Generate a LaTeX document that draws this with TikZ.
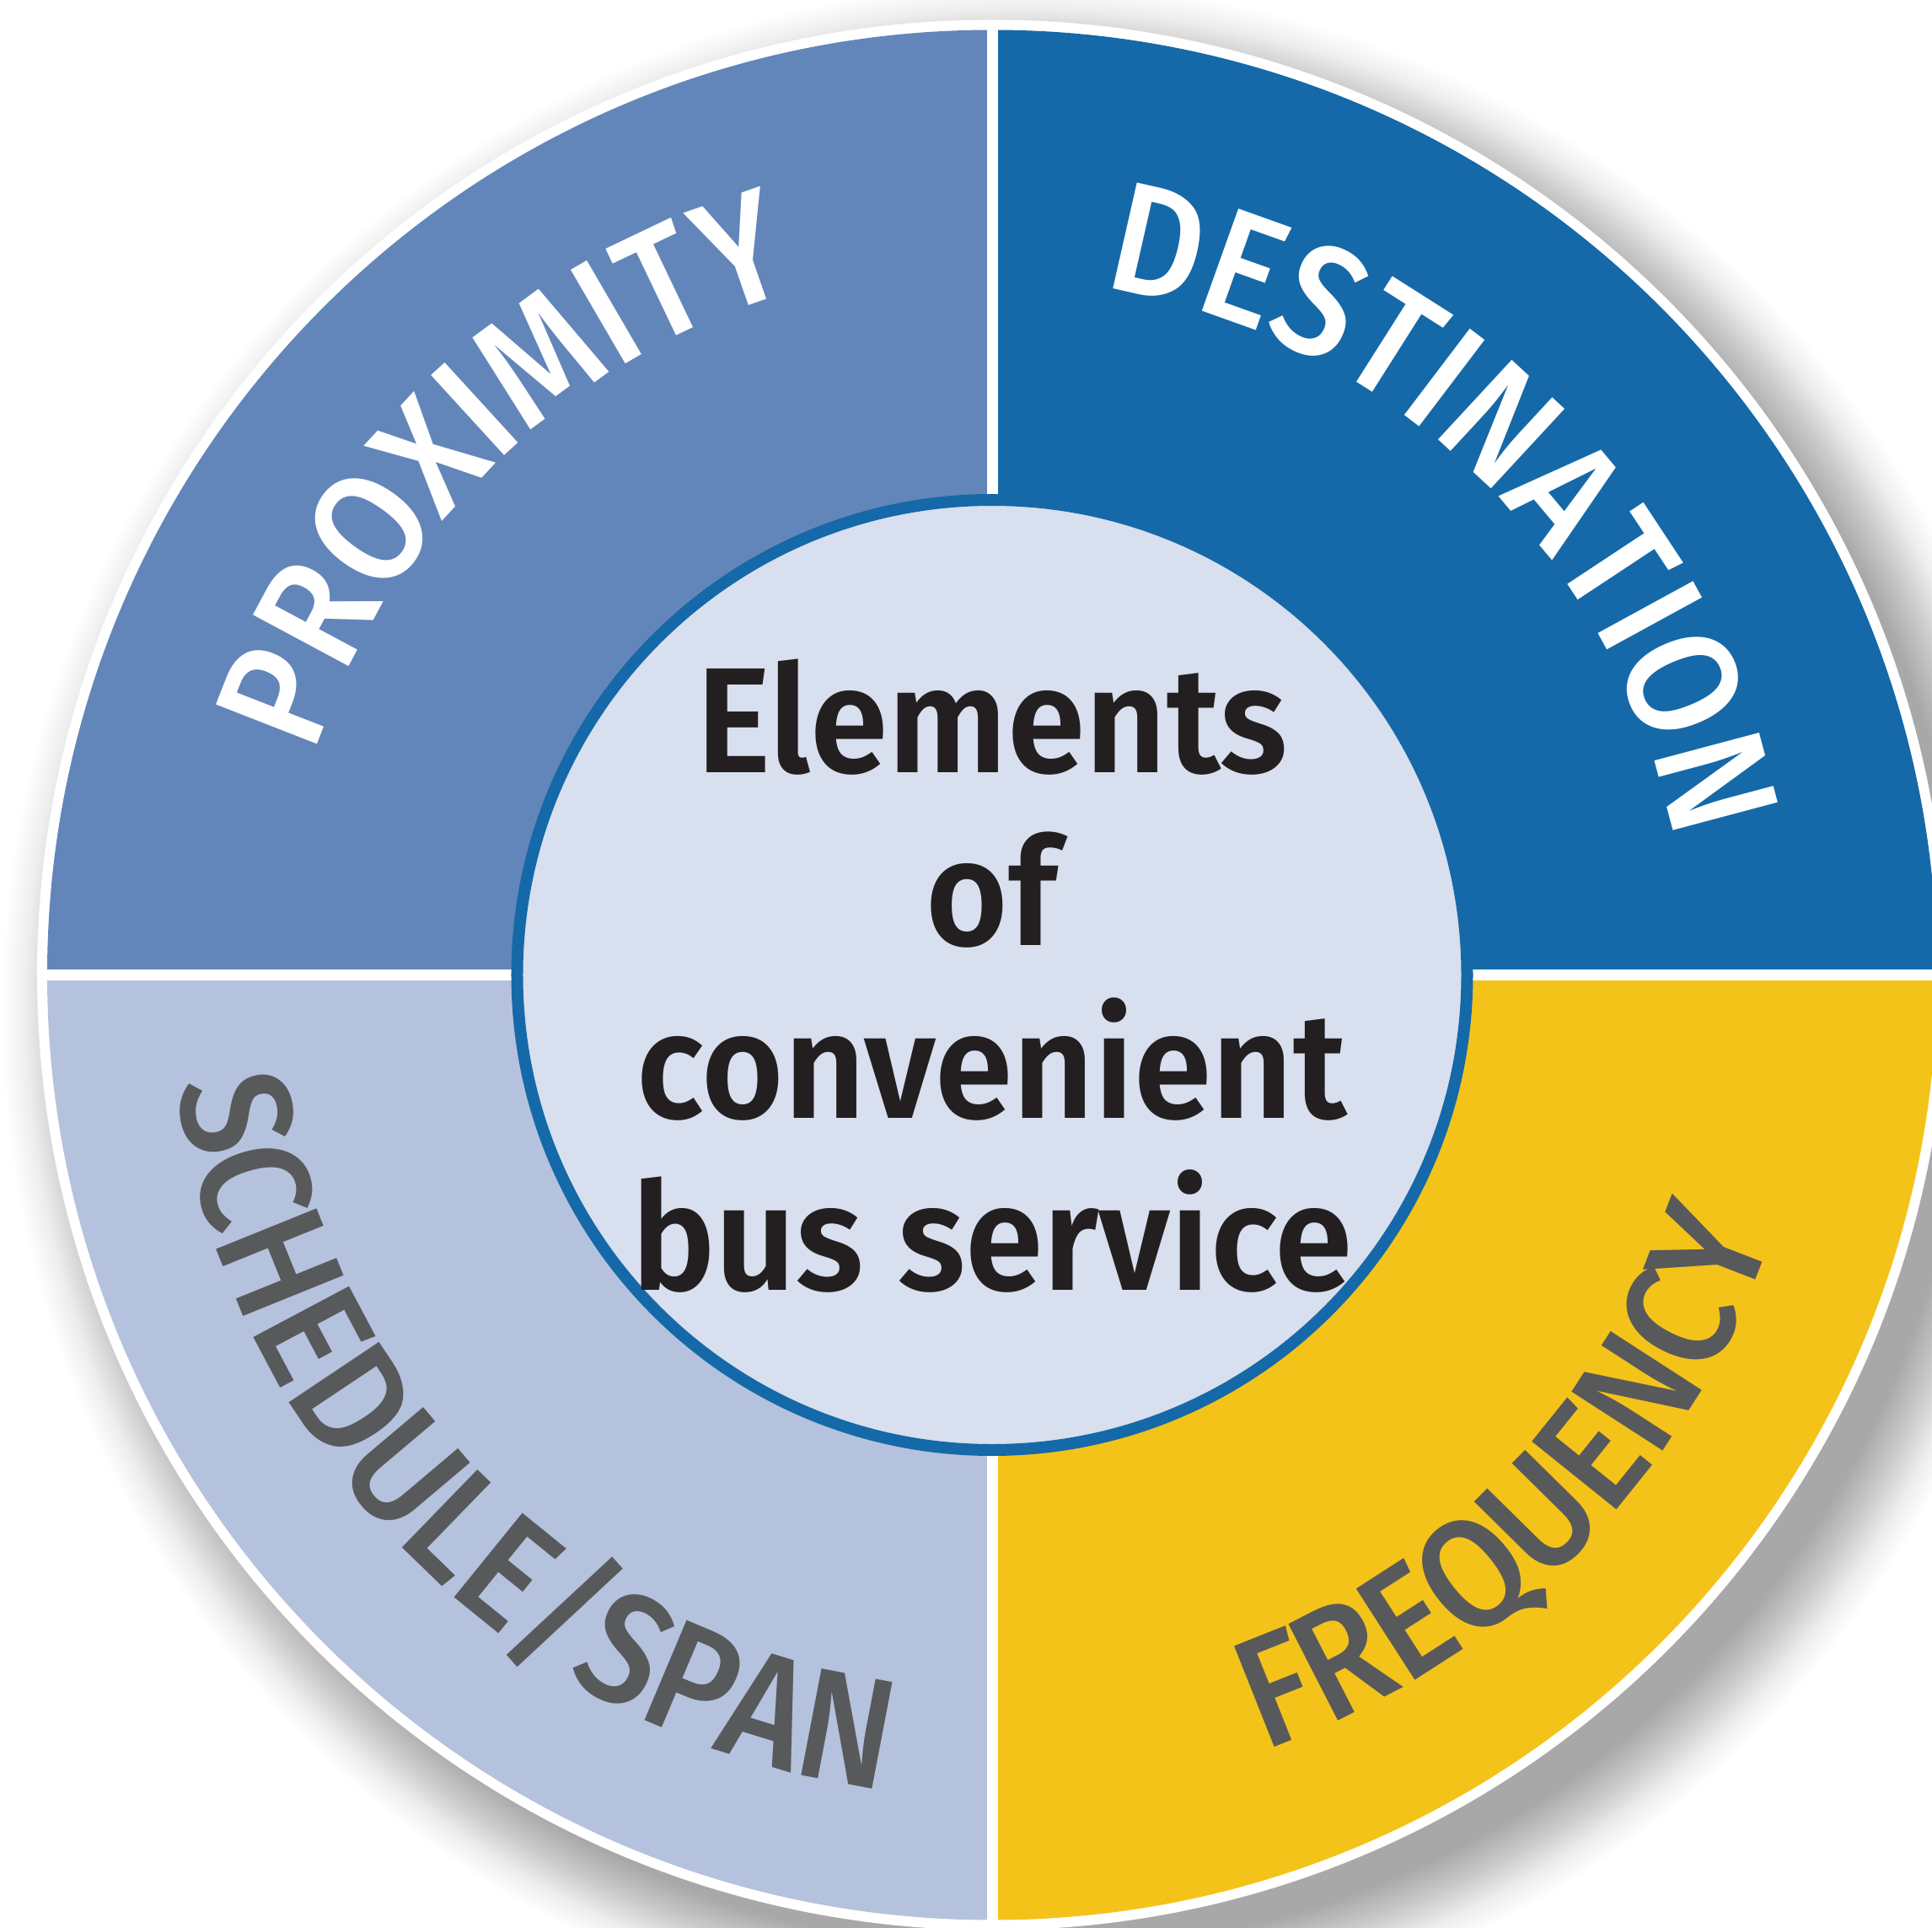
\documentclass[tikz,border=0pt]{standalone}
\usepackage{fontspec}
\setmainfont{Fira Sans}
\newfontfamily\ringfamily{Fira Sans Medium}[FakeStretch=0.9]
\newfontfamily\hubfont{Fira Sans SemiBold}[FakeStretch=0.94]
\usetikzlibrary{decorations.text}

\definecolor{proxblue}{HTML}{6386BA}
\definecolor{destblue}{HTML}{1569A8}
\definecolor{freqyellow}{HTML}{F4C31A}
\definecolor{schedblue}{HTML}{B5C2DE}
\definecolor{hubfill}{HTML}{D8DFEE}
\definecolor{labelgrey}{HTML}{58595B}
\definecolor{hubink}{HTML}{231F20}
\definecolor{shadowgrey}{HTML}{A8A8A8}

% soft shadow under the disc, the path edge sits at 25bp
\pgfdeclareradialshading{ringshadow}{\pgfpointorigin}{color(0bp)=(shadowgrey);
	color(22.9bp)=(shadowgrey); color(23.7bp)=(shadowgrey!60!white);
	color(24.4bp)=(shadowgrey!20!white); color(25bp)=(white); color(50bp)=(white)}

\newcommand{\ringfont}{\ringfamily\fontsize{53}{53}\selectfont}

\tikzset{
	toplabel/.style={decorate, decoration={text along path, text align=center,
		text color=white, text={|\ringfont|#1}}},
	botlabel/.style={decorate, decoration={text along path, text align=center,
		text color=labelgrey, text={|\ringfont|#1}}},
	hubtext/.style={anchor=base, text=hubink, inner sep=0pt,
		font=\hubfont\fontsize{50.6}{58}\selectfont},
}

\begin{document}
\begin{tikzpicture}
		\useasboundingbox (-11.77,-11.295) rectangle (11.15,11.565);
		\clip (-11.77,-11.295) rectangle (11.15,11.565);
		\fill[white] (-11.77,-11.295) rectangle (11.15,11.565);
		\shade[shading=ringshadow] (0.42,-0.42) circle (12.18);
		\fill[white] (0,0) circle (11.33);
		\fill[destblue] (0,0) -- (0:11.21) arc[start angle=0, end angle=90, radius=11.21] -- cycle;
		\fill[proxblue] (0,0) -- (90:11.21) arc[start angle=90, end angle=180, radius=11.21] -- cycle;
		\fill[schedblue] (0,0) -- (180:11.21) arc[start angle=180, end angle=270, radius=11.21] -- cycle;
		\fill[freqyellow] (0,0) -- (270:11.21) arc[start angle=270, end angle=360, radius=11.21] -- cycle;
		\draw[white, line width=0.13cm] (-11.3,0) -- (11.3,0);
		\draw[white, line width=0.13cm] (0,-11.3) -- (0,11.3);
		\draw[destblue, fill=hubfill, line width=0.14cm] (0,0) circle (5.635);
		% labels round the ring
		\path[toplabel=PROXIMITY] (174:8.45) arc[start angle=174, end angle=94, radius=8.45];
		\path[toplabel=DESTINATION] (86:8.25) arc[start angle=86, end angle=6, radius=8.25];
		\path[botlabel=SCHEDULE/SPAN] (184:9.75) arc[start angle=184, end angle=266, radius=9.75];
		\path[botlabel=FREQUENCY] (275:9.75) arc[start angle=275, end angle=356, radius=9.75];
		\foreach \txt/\y/\nm in {Elements/2.40/elements, of/0.355/of, convenient/-1.695/convenient, bus service/-3.735/service}
		\node[hubtext] (\nm) at (0,\y) {\txt};
\end{tikzpicture}
\end{document}
